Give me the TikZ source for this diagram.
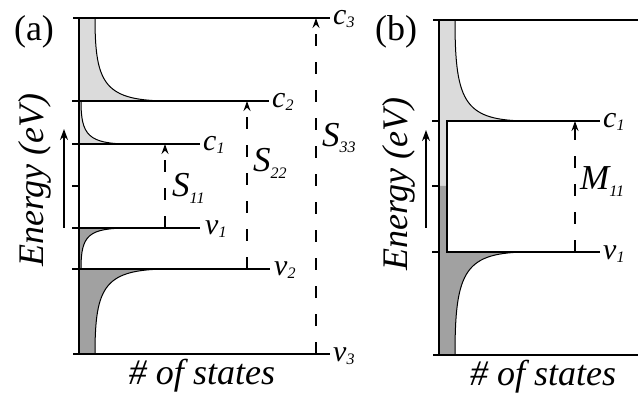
\documentclass[tikz,border=0pt]{standalone}
\usepackage{fontspec}
\setmainfont{Liberation Serif}
\newfontfamily\tnr{Liberation Serif}
\usetikzlibrary{arrows.meta}
\definecolor{lightg}{gray}{0.86}
\definecolor{darkg}{gray}{0.63}
\newcommand{\mysub}[2]{\raisebox{-#1pt}{\fontsize{16}{16}\selectfont\tnr\itshape #2}}
\begin{document}
\begin{tikzpicture}[x=1pt,y=-1pt,
  axisline/.style={line width=2.4pt},
  levelline/.style={line width=1.6pt},
  dosline/.style={line width=1pt},
  transarrow/.style={line width=1.3pt, dash pattern=on 12pt off 16pt, -{Stealth[length=10pt,width=7pt]}},
  evarrow/.style={line width=2pt, -{Stealth[length=11pt,width=8pt]}},
  lvllbl/.style={font=\tnr\fontsize{30}{30}\selectfont\itshape, anchor=base west, inner sep=0pt},
  trlbl/.style={font=\tnr\fontsize{35}{35}\selectfont\itshape, anchor=base west, inner sep=0pt},
  axlbl/.style={font=\tnr\fontsize{36}{36}\selectfont\itshape, anchor=base, inner sep=0pt},
  panlbl/.style={font=\tnr\fontsize{36}{36}\selectfont\upshape, anchor=base, inner sep=0pt}]
\useasboundingbox[fill=white] (0,0) rectangle (638,401);

% ---------------- panel (a) ----------------
\fill[lightg] (79,18) -- (95,18) .. controls (95,85) and (105,101) .. (170,101) -- (79,101) -- cycle;
\fill[lightg] (79,101) -- (81,101) .. controls (81,135) and (88,144) .. (130,144) -- (79,144) -- cycle;
\fill[darkg] (79,269) -- (81,269) .. controls (81,235) and (88,228) .. (130,228) -- (79,228) -- cycle;
\fill[darkg] (79,354) -- (95,354) .. controls (95,285) and (105,269) .. (170,269) -- (79,269) -- cycle;
\draw[dosline] (95,18) .. controls (95,85) and (105,101) .. (170,101);
\draw[dosline] (81,101) .. controls (81,135) and (88,144) .. (130,144);
\draw[dosline] (81,269) .. controls (81,235) and (88,228) .. (130,228);
\draw[dosline] (95,354) .. controls (95,285) and (105,269) .. (170,269);

\coordinate (a-c3e) at (330,18);
\coordinate (a-c2e) at (269,101);
\coordinate (a-c1e) at (200,144);
\coordinate (a-v1e) at (200,228);
\coordinate (a-v2e) at (270,269);
\coordinate (a-v3e) at (330,354);
\draw[levelline] (73,18) -- (a-c3e);
\draw[levelline] (72,101) -- (a-c2e);
\draw[levelline] (72,144) -- (a-c1e);
\draw[levelline] (72,186) -- (79,186);
\draw[levelline] (72,228) -- (a-v1e);
\draw[levelline] (72,269) -- (a-v2e);
\draw[levelline] (73,354) -- (a-v3e);
\draw[axisline] (79,18) -- (79,355);

\node[lvllbl] (c3) at (333,25) {c\mysub{3}{3}};
\node[lvllbl] (c2) at (272,108) {c\mysub{3}{2}};
\node[lvllbl] (c1) at (203,151) {c\mysub{3}{1}};
\node[lvllbl] (v1) at (205,235) {v\mysub{3}{1}};
\node[lvllbl] (v2) at (274,276) {v\mysub{3}{2}};
\node[lvllbl] (v3) at (333,361) {v\mysub{3}{3}};

\coordinate (s11b) at (165,228); \coordinate (s11t) at (165,144);
\coordinate (s22b) at (247,269); \coordinate (s22t) at (247,101);
\coordinate (s33b) at (316,354); \coordinate (s33t) at (316,18);
\draw[transarrow] (s11b) -- (s11t);
\draw[transarrow] (s22b) -- (s22t);
\draw[transarrow] (s33b) -- (s33t);
\node[trlbl] (S11) at (172,197) {S\mysub{6}{11}};
\node[trlbl] (S22) at (253,172) {S\mysub{6}{22}};
\node[trlbl] (S33) at (322,147) {S\mysub{6}{33}};

\coordinate (ea0) at (64,228); \coordinate (ea1) at (64,129);
\draw[evarrow] (ea0) -- (ea1);
\node[axlbl, rotate=90] (ena) at (43,180) {Energy (eV)};
\node[axlbl] (nsa) at (202,384) {\# of states};
\node[panlbl] (pa) at (34,41) {(a)};

% ---------------- panel (b) ----------------
\fill[lightg] (439,20) -- (455,20) .. controls (455,104) and (465,121) .. (530,121) -- (447,121) -- (447,186) -- (439,186) -- cycle;
\fill[darkg] (439,186) -- (447,186) -- (447,252) -- (530,252) .. controls (465,252) and (455,270) .. (455,355) -- (439,355) -- cycle;
\draw[dosline] (455,20) .. controls (455,104) and (465,121) .. (530,121);
\draw[dosline] (530,252) .. controls (465,252) and (455,270) .. (455,355);

\coordinate (b-c1e) at (600,121);
\coordinate (b-v1e) at (600,252);
\draw[levelline] (433,20) -- (638,20);
\draw[levelline] (433,355) -- (638,355);
\draw[levelline] (447,121) -- (b-c1e);
\draw[levelline] (447,252) -- (b-v1e);
\draw[levelline] (447,120.2) -- (447,252.8);
\draw[levelline] (432,121) -- (439,121);
\draw[levelline] (432,186) -- (439,186);
\draw[levelline] (432,252) -- (439,252);
\draw[axisline] (439,20) -- (439,356);

\node[lvllbl] (bc1) at (603,128) {c\mysub{3}{1}};
\node[lvllbl] (bv1) at (603,259) {v\mysub{3}{1}};

\coordinate (m11b) at (575,252); \coordinate (m11t) at (575,121);
\draw[transarrow] (m11b) -- (m11t);
\node[trlbl] (M11) at (580,190) {M\mysub{6}{11}};

\coordinate (eb0) at (426,228); \coordinate (eb1) at (426,130);
\draw[evarrow] (eb0) -- (eb1);
\node[axlbl, rotate=90] (enb) at (407,184) {Energy (eV)};
\node[axlbl] (nsb) at (543,385) {\# of states};
\node[panlbl] (pb) at (396,41) {(b)};
\end{tikzpicture}
\end{document}
